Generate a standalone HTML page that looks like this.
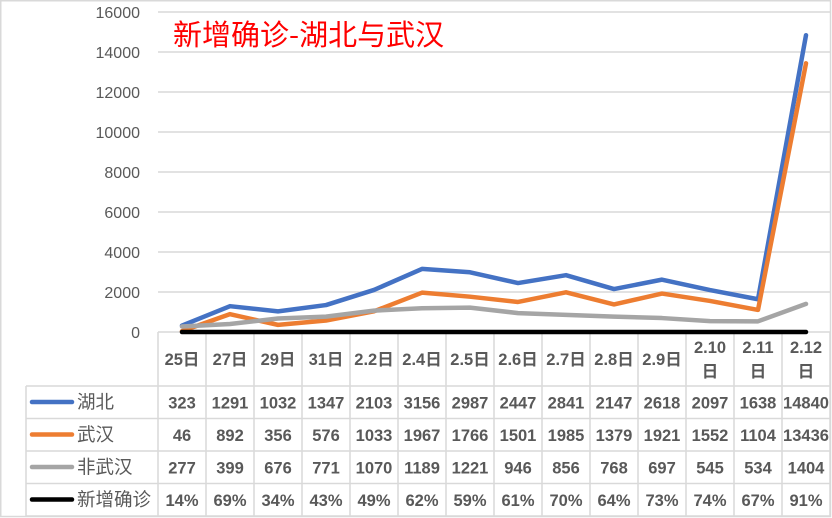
<!DOCTYPE html>
<html><head><meta charset="utf-8"><style>
html,body{margin:0;padding:0;background:#fff;}
svg{display:block;}
</style></head><body>
<svg width="832" height="518" viewBox="0 0 832 518" xmlns="http://www.w3.org/2000/svg">
<rect x="0" y="0" width="832" height="518" fill="#fff"/>
<!-- outer border -->
<rect x="0.75" y="0.75" width="829.75" height="515.75" fill="none" stroke="#d9d9d9" stroke-width="1.5"/>
<!-- gridlines -->
<g stroke="#d9d9d9" stroke-width="1.5">
<line x1="158" y1="12" x2="830" y2="12"/>
<line x1="158" y1="52" x2="830" y2="52"/>
<line x1="158" y1="92" x2="830" y2="92"/>
<line x1="158" y1="132" x2="830" y2="132"/>
<line x1="158" y1="172" x2="830" y2="172"/>
<line x1="158" y1="212" x2="830" y2="212"/>
<line x1="158" y1="252" x2="830" y2="252"/>
<line x1="158" y1="292" x2="830" y2="292"/>
</g>
<!-- y labels -->
<g font-family="Liberation Sans, sans-serif" font-size="16" fill="#595959" text-anchor="end">
<text x="140" y="18">16000</text>
<text x="140" y="58">14000</text>
<text x="140" y="98">12000</text>
<text x="140" y="138">10000</text>
<text x="140" y="178">8000</text>
<text x="140" y="218">6000</text>
<text x="140" y="258">4000</text>
<text x="140" y="298">2000</text>
<text x="140" y="338">0</text>
</g>
<!-- title -->
<rect x="168" y="16" width="280" height="34" fill="#fff"/>
<text x="173" y="45" font-family="Noto Sans CJK SC, sans-serif" font-size="29" fill="#ff0000">新增确诊-湖北与武汉</text>
<!-- table lines -->
<g stroke="#d9d9d9" stroke-width="1.5">
<line x1="158" y1="332" x2="830" y2="332"/>
<line x1="26" y1="386" x2="830" y2="386"/>
<line x1="26" y1="418.5" x2="830" y2="418.5"/>
<line x1="26" y1="451" x2="830" y2="451"/>
<line x1="26" y1="483.5" x2="830" y2="483.5"/>
<line x1="26" y1="516" x2="830" y2="516"/>
<line x1="26" y1="386" x2="26" y2="516"/>
<line x1="158" y1="332" x2="158" y2="516"/>
<line x1="206" y1="332" x2="206" y2="516"/>
<line x1="254" y1="332" x2="254" y2="516"/>
<line x1="302" y1="332" x2="302" y2="516"/>
<line x1="350" y1="332" x2="350" y2="516"/>
<line x1="398" y1="332" x2="398" y2="516"/>
<line x1="446" y1="332" x2="446" y2="516"/>
<line x1="494" y1="332" x2="494" y2="516"/>
<line x1="542" y1="332" x2="542" y2="516"/>
<line x1="590" y1="332" x2="590" y2="516"/>
<line x1="638" y1="332" x2="638" y2="516"/>
<line x1="686" y1="332" x2="686" y2="516"/>
<line x1="734" y1="332" x2="734" y2="516"/>
<line x1="782" y1="332" x2="782" y2="516"/>
<line x1="830" y1="332" x2="830" y2="516"/>
</g>
<!-- series -->
<g fill="none" stroke-width="4.5" stroke-linejoin="round" stroke-linecap="round">
<polyline stroke="#4472C4" points="182,325.54 230,306.18 278,311.36 326,305.06 374,289.94 422,268.88 470,272.26 518,283.06 566,275.18 614,289.06 662,279.64 710,290.06 758,299.24 806,35.2"/>
<polyline stroke="#ED7D31" points="182,331.08 230,314.16 278,324.88 326,320.48 374,311.34 422,292.66 470,296.68 518,301.98 566,292.3 614,304.42 662,293.58 710,300.96 758,309.92 806,63.28"/>
<polyline stroke="#A5A5A5" points="182,326.46 230,324.02 278,318.48 326,316.58 374,310.6 422,308.22 470,307.58 518,313.08 566,314.88 614,316.64 662,318.06 710,321.1 758,321.32 806,303.92"/>
<polyline stroke="#000000" points="182,332 806,332"/>
</g>
<!-- header row -->
<g font-family="Liberation Sans, Noto Sans CJK SC, sans-serif" font-size="16.5" font-weight="bold" fill="#595959" text-anchor="middle">
<text x="182" y="365">25日</text>
<text x="230" y="365">27日</text>
<text x="278" y="365">29日</text>
<text x="326" y="365">31日</text>
<text x="374" y="365">2.2日</text>
<text x="422" y="365">2.4日</text>
<text x="470" y="365">2.5日</text>
<text x="518" y="365">2.6日</text>
<text x="566" y="365">2.7日</text>
<text x="614" y="365">2.8日</text>
<text x="662" y="365">2.9日</text>
<text x="710" y="353">2.10</text><text x="710" y="377">日</text>
<text x="758" y="353">2.11</text><text x="758" y="377">日</text>
<text x="806" y="353">2.12</text><text x="806" y="377">日</text>
</g>
<!-- legend keys -->
<g stroke-width="4.5" stroke-linecap="round">
<line x1="32" y1="402" x2="72" y2="402" stroke="#4472C4"/>
<line x1="32" y1="434.5" x2="72" y2="434.5" stroke="#ED7D31"/>
<line x1="32" y1="467" x2="72" y2="467" stroke="#A5A5A5"/>
<line x1="32" y1="499.5" x2="72" y2="499.5" stroke="#000000"/>
</g>
<g font-family="Noto Sans CJK SC, sans-serif" font-size="18.5" fill="#595959">
<text x="77" y="408.5">湖北</text>
<text x="77" y="441">武汉</text>
<text x="77" y="473.5">非武汉</text>
<text x="77" y="506">新增确诊</text>
</g>
<!-- data rows -->
<g font-family="Liberation Sans, sans-serif" font-size="16.5" font-weight="bold" fill="#595959" text-anchor="middle">
<text y="408.5"><tspan x="182">323</tspan><tspan x="230">1291</tspan><tspan x="278">1032</tspan><tspan x="326">1347</tspan><tspan x="374">2103</tspan><tspan x="422">3156</tspan><tspan x="470">2987</tspan><tspan x="518">2447</tspan><tspan x="566">2841</tspan><tspan x="614">2147</tspan><tspan x="662">2618</tspan><tspan x="710">2097</tspan><tspan x="758">1638</tspan><tspan x="806">14840</tspan></text>
<text y="441"><tspan x="182">46</tspan><tspan x="230">892</tspan><tspan x="278">356</tspan><tspan x="326">576</tspan><tspan x="374">1033</tspan><tspan x="422">1967</tspan><tspan x="470">1766</tspan><tspan x="518">1501</tspan><tspan x="566">1985</tspan><tspan x="614">1379</tspan><tspan x="662">1921</tspan><tspan x="710">1552</tspan><tspan x="758">1104</tspan><tspan x="806">13436</tspan></text>
<text y="473.5"><tspan x="182">277</tspan><tspan x="230">399</tspan><tspan x="278">676</tspan><tspan x="326">771</tspan><tspan x="374">1070</tspan><tspan x="422">1189</tspan><tspan x="470">1221</tspan><tspan x="518">946</tspan><tspan x="566">856</tspan><tspan x="614">768</tspan><tspan x="662">697</tspan><tspan x="710">545</tspan><tspan x="758">534</tspan><tspan x="806">1404</tspan></text>
<text y="506"><tspan x="182">14%</tspan><tspan x="230">69%</tspan><tspan x="278">34%</tspan><tspan x="326">43%</tspan><tspan x="374">49%</tspan><tspan x="422">62%</tspan><tspan x="470">59%</tspan><tspan x="518">61%</tspan><tspan x="566">70%</tspan><tspan x="614">64%</tspan><tspan x="662">73%</tspan><tspan x="710">74%</tspan><tspan x="758">67%</tspan><tspan x="806">91%</tspan></text>
</g>
</svg>
</body></html>
